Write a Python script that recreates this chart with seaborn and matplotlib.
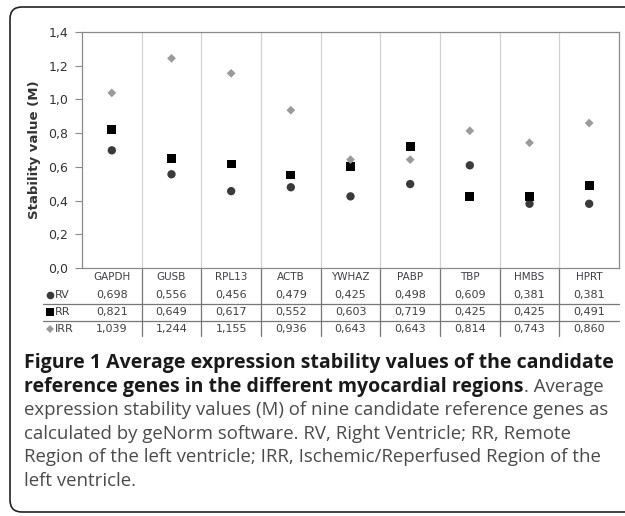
import matplotlib
matplotlib.use('Agg')
import matplotlib.pyplot as plt
import matplotlib.transforms as mtransforms
from matplotlib.patches import FancyBboxPatch
from matplotlib.lines import Line2D
import pandas as pd
import seaborn as sns

# data
genes = ['GAPDH', 'GUSB', 'RPL13', 'ACTB', 'YWHAZ', 'PABP', 'TBP', 'HMBS', 'HPRT']
rv = [0.698, 0.556, 0.456, 0.479, 0.425, 0.498, 0.609, 0.381, 0.381]
rr = [0.821, 0.649, 0.617, 0.552, 0.603, 0.719, 0.425, 0.425, 0.491]
irr = [1.039, 1.244, 1.155, 0.936, 0.643, 0.643, 0.814, 0.743, 0.860]
regions = ['RV', 'RR', 'IRR']
y_ticks = [0.0, 0.2, 0.4, 0.6, 0.8, 1.0, 1.2, 1.4]

caption_lines = [
    [('Figure 1 Average expression stability values of the candidate', 'bold')],
    [('reference genes in the different myocardial regions', 'bold'), ('. Average', 'normal')],
    [('expression stability values (M) of nine candidate reference genes as', 'normal')],
    [('calculated by geNorm software. RV, Right Ventricle; RR, Remote', 'normal')],
    [('Region of the left ventricle; IRR, Ischemic/Reperfused Region of the', 'normal')],
    [('left ventricle.', 'normal')],
]

df = pd.DataFrame({
    'gene': genes * 3,
    'region': ['RV'] * 9 + ['RR'] * 9 + ['IRR'] * 9,
    'value': rv + rr + irr,
})

palette = {'RV': '#3a3a3a', 'RR': '#000000', 'IRR': '#9a9a9a'}
markers = {'RV': 'o', 'RR': 's', 'IRR': 'D'}
sizes = {'RV': 36, 'RR': 40, 'IRR': 20}

W, H = 625, 516
sns.set_style('white')
plt.rcParams['font.family'] = ['DejaVu Sans']

fig = plt.figure(figsize=(W / 100, H / 100), dpi=100)
ax = fig.add_axes([82 / W, 1 - 268 / H, (619 - 82) / W, (268 - 32) / H])

for reg in regions:
    sub = df[df.region == reg]
    sns.scatterplot(data=sub, x='gene', y='value', color=palette[reg], marker=markers[reg],
                    s=sizes[reg], edgecolor='none', ax=ax, zorder=3, legend=False)

ax.set_xlim(-0.5, len(genes) - 0.5)
ax.set_ylim(0, 1.4)
ax.set_yticks(y_ticks)
ax.set_yticklabels([f'{t:.1f}'.replace('.', ',') for t in y_ticks], fontsize=9, color='#333333')
ax.tick_params(axis='y', length=5, width=0.8, color='#888888', pad=5, left=True)
ax.set_xticks([])
ax.set_xlabel('')
ax.set_ylabel('Stability value (M)', fontsize=9.5, fontweight='bold', color='#333333', labelpad=5)
for s in ax.spines.values():
    s.set_color('#8a8a8a')
    s.set_linewidth(0.9)

# vertical separators between genes
for i in range(1, len(genes)):
    ax.axvline(i - 0.5, color='#d2d2d2', lw=0.9, zorder=1)

# data table under the axis
tr = mtransforms.blended_transform_factory(ax.transData, fig.transFigure)
def fy(px):
    return 1 - px / H

for i, g in enumerate(genes):
    ax.text(i, fy(277), g, transform=tr, ha='center', va='center', fontsize=7.5, color='#40404a')
    ax.text(i, fy(295), f'{rv[i]:.3f}'.replace('.', ','), transform=tr, ha='center', va='center', fontsize=8, color='#404040')
    ax.text(i, fy(312), f'{rr[i]:.3f}'.replace('.', ','), transform=tr, ha='center', va='center', fontsize=8, color='#404040')
    ax.text(i, fy(329), f'{irr[i]:.3f}'.replace('.', ','), transform=tr, ha='center', va='center', fontsize=8, color='#404040')
for i in range(1, len(genes)):
    ax.add_line(Line2D([i - 0.5, i - 0.5], [fy(268), fy(336)], transform=tr, color='#777777', lw=0.9, clip_on=False))
for ypx in (303.5, 320.5):
    fig.add_artist(Line2D([43 / W, 619 / W], [fy(ypx), fy(ypx)], color='#777777', lw=0.9))

for reg, ypx in zip(regions, (295, 312, 329)):
    fig.add_artist(Line2D([50 / W], [fy(ypx)], marker=markers[reg], color=palette[reg],
                          markersize={'RV': 5.5, 'RR': 5.5, 'IRR': 3.8}[reg], markeredgewidth=0, linestyle='none'))
    fig.text(55 / W, fy(ypx), reg, ha='left', va='center', fontsize=8, color='#404040')

# caption
cap_family = ['Open Sans', 'DejaVu Sans']
baselines = [368, 392, 415, 439, 462, 486]
fig.canvas.draw()
renderer = fig.canvas.get_renderer()
for line, ypx in zip(caption_lines, baselines):
    xpx = 24
    for txt, weight in line:
        t = fig.text(xpx / W, fy(ypx), txt, ha='left', va='baseline',
                     fontsize=14 if weight == 'bold' else 13.4,
                     fontweight=weight, family=cap_family,
                     color='#1a1a1a' if weight == 'bold' else '#4a4a4a')
        xpx += t.get_window_extent(renderer).width

# rounded frame around the figure
frame = FancyBboxPatch((10, 4), 640, 505, boxstyle='round,pad=0,rounding_size=12',
                       transform=mtransforms.IdentityTransform(), fill=False,
                       edgecolor='#222222', lw=1.2)
fig.add_artist(frame)

fig.savefig('out.png', dpi=100)
